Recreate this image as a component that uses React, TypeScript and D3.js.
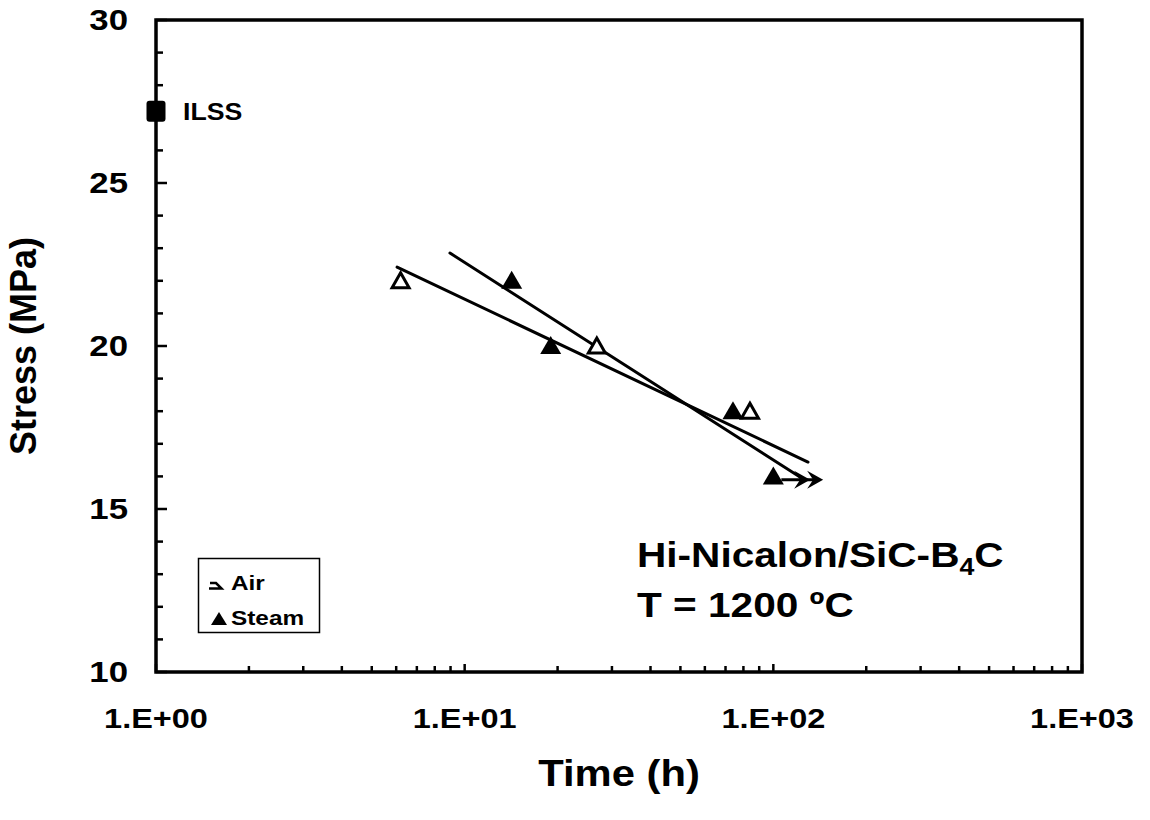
import { scaleLog, scaleLinear, line, range } from 'd3'
import type { ReactNode } from 'react'

const airTime = [6.2, 26.8, 84]
const airStress = [22, 20, 18]
const steamTime = [14.2, 19, 74, 100]
const steamStress = [22, 20, 18, 16]
const airFit = [[6.04, 22.42], [129.5, 16.44]]
const steamFit = [[8.96, 22.85], [122, 15.98]]
const runout = [100, 145, 15.9]
const ilss = [1, 27.2]
const xTicks = [1, 10, 100, 1000]
const xTickLabels = ['1.E+00', '1.E+01', '1.E+02', '1.E+03']
const yTicks = [10, 15, 20, 25, 30]

const FONT = '"Liberation Sans", Arial, sans-serif'
const SX = 1.16 // the original chart was stretched sideways

function Txt(p: { x: number; y: number; size: number; anchor?: string; rot?: boolean; sx?: number; children: ReactNode }) {
  return (
    <g transform={`translate(${p.x},${p.y}) scale(${p.sx ?? SX},1)${p.rot ? ' rotate(-90)' : ''}`}>
      <text textAnchor={p.anchor ?? 'start'} fontSize={p.size} fontWeight="bold">{p.children}</text>
    </g>
  )
}

export default function App() {
  const x = scaleLog().domain([1, 1000]).range([156, 1082])
  const y = scaleLinear().domain([10, 30]).range([672, 20])
  const fit = line<number[]>().x(d => x(d[0])).y(d => y(d[1]))

  const minorX = [1, 10, 100].flatMap(d => range(2, 10).map(k => d * k))
  const minorY = range(10, 31).filter(v => v % 5 !== 0)

  const tri = 'M0,-10 L10.5,8 L-10.5,8 Z'
  const triOpen = 'M0,-8 L8.5,7 L-8.5,7 Z'
  const head = (tx: number, ty: number) =>
    `M${tx},${ty} L${tx - 16},${ty - 9} L${tx - 10},${ty} L${tx - 16},${ty + 9} Z`

  const ax0 = x(runout[0]) + 8
  const ax1 = x(runout[1])
  const ay = y(runout[2])

  return (
    <div style={{ position: 'absolute', left: 0, top: 0 }}>
      <svg width={1150} height={820} style={{ display: 'block', fontFamily: FONT }}>
        <rect width={1150} height={820} fill="#fff" />

        {/* ticks, inward */}
        {minorX.map(v => (
          <line key={'mx' + v} x1={x(v)} x2={x(v)} y1={672} y2={666} stroke="#000" strokeWidth={2.5} />
        ))}
        {xTicks.map(v => (
          <line key={'Mx' + v} x1={x(v)} x2={x(v)} y1={672} y2={664} stroke="#000" strokeWidth={2.5} />
        ))}
        {minorY.map(v => (
          <line key={'my' + v} x1={156} x2={163} y1={y(v)} y2={y(v)} stroke="#000" strokeWidth={2.5} />
        ))}
        {yTicks.map(v => (
          <line key={'My' + v} x1={156} x2={167} y1={y(v)} y2={y(v)} stroke="#000" strokeWidth={2.5} />
        ))}

        <rect x={156} y={20} width={926} height={652} fill="none" stroke="#000" strokeWidth={3.5} />

        {/* tick labels */}
        {yTicks.map(v => (
          <Txt key={'yl' + v} x={128} y={y(v) + 10} size={30} anchor="end">{v}</Txt>
        ))}
        {xTicks.map((v, i) => (
          <Txt key={'xl' + v} x={x(v)} y={728} size={28} anchor="middle">{xTickLabels[i]}</Txt>
        ))}

        <Txt x={x(10 ** 1.5)} y={786} size={36} anchor="middle">Time (h)</Txt>
        <Txt x={36} y={y(20)} size={36} anchor="middle" sx={1} rot>Stress (MPa)</Txt>

        {/* fit lines */}
        <path d={fit(airFit) ?? ''} fill="none" stroke="#000" strokeWidth={3} strokeLinecap="round" />
        <path d={fit(steamFit) ?? ''} fill="none" stroke="#000" strokeWidth={3} strokeLinecap="round" />

        {/* run-out arrow */}
        <line x1={ax0} x2={ax1 - 8} y1={ay} y2={ay} stroke="#000" strokeWidth={3} />
        <path d={head(ax1 - 13, ay)} fill="#000" />
        <path d={head(ax1, ay)} fill="#000" />

        {/* data */}
        {airTime.map((t, i) => (
          <path key={'a' + i} d={triOpen} transform={`translate(${x(t)},${y(airStress[i])})`} fill="#fff" stroke="#000" strokeWidth={3} strokeLinejoin="miter" />
        ))}
        {steamTime.map((t, i) => (
          <path key={'s' + i} d={tri} transform={`translate(${x(t)},${y(steamStress[i])})`} fill="#000" />
        ))}

        {/* ILSS */}
        <rect x={x(ilss[0]) - 9.5} y={y(ilss[1]) - 10.5} width={19} height={21} rx={3} fill="#000" />
        <Txt x={183} y={y(ilss[1]) + 9} size={23}>ILSS</Txt>

        {/* legend */}
        <rect x={198.5} y={558.5} width={121} height={74} fill="#fff" stroke="#000" strokeWidth={1.5} />
        <path d="M210,583 L216,583 L221.5,588.5 L209,588.5" fill="none" stroke="#000" strokeWidth={2.5} />
        <Txt x={231} y={590} size={21}>Air</Txt>
        <path d="M219,612 L227,625 L211,625 Z" fill="#000" />
        <Txt x={231} y={625} size={21}>Steam</Txt>

        {/* annotation */}
        <Txt x={637} y={567} size={35}>
          Hi-Nicalon/SiC-B<tspan fontSize={23} dy={8}>4</tspan><tspan dy={-8}>C</tspan>
        </Txt>
        <Txt x={637} y={617} size={35}>T = 1200 ºC</Txt>
      </svg>
    </div>
  )
}
